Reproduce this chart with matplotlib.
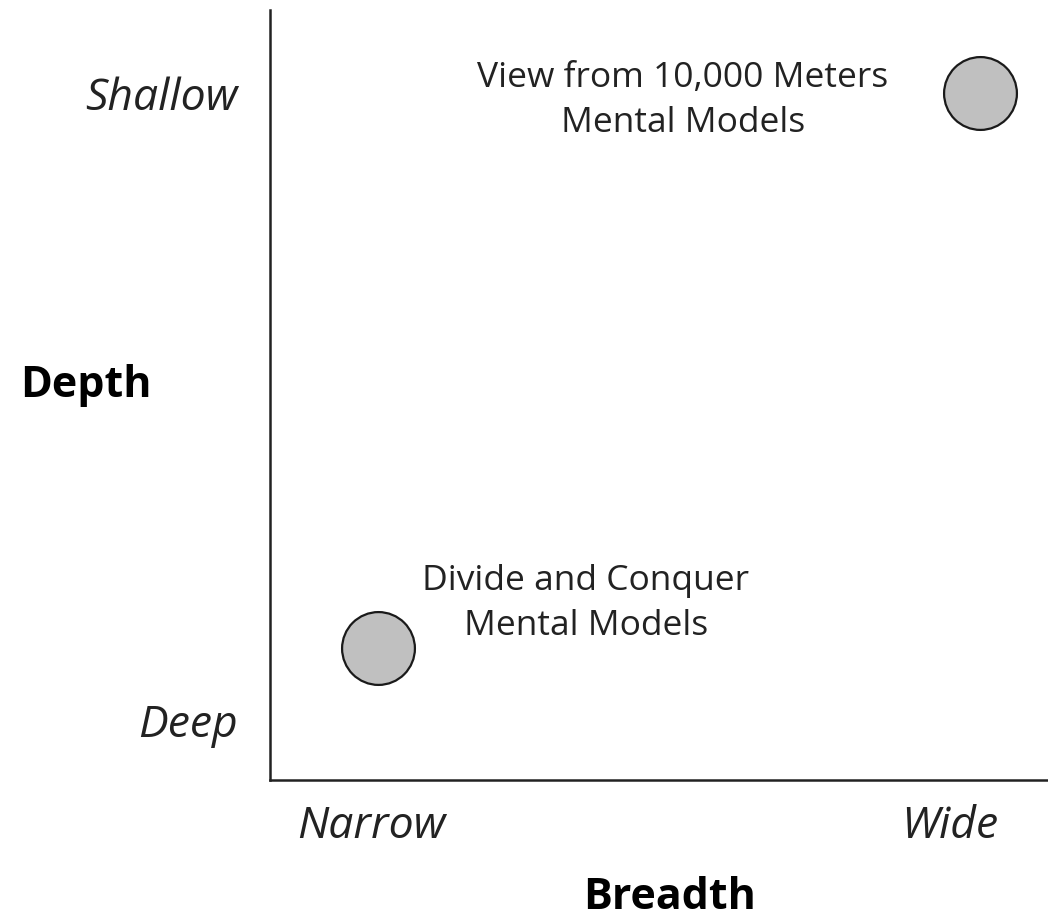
import matplotlib.pyplot as plt

# data: two mental model groups on breadth/depth plane
breadth = [0.139, 0.913]
depth = [0.171, 0.892]
labels = ["Divide and Conquer\nMental Models", "View from 10,000 Meters\nMental Models"]
label_xy = [(0.406, 0.229), (0.531, 0.882)]

x_ticks = [0.131, 0.874]
x_ticklabels = ["Narrow", "Wide"]
y_ticks = [0.078, 0.892]
y_ticklabels = ["Deep", "Shallow"]

plt.rcParams['font.family'] = ['Open Sans', 'DejaVu Sans']

fig = plt.figure(figsize=(10.48, 9.23), dpi=100)
ax = fig.add_axes([270 / 1048, 1 - 780 / 923, 778 / 1048, 770 / 923])
ax.set_xlim(0, 1)
ax.set_ylim(0, 1)

ax.scatter(breadth, depth, s=2750, c='#c0c0c0', edgecolors='#1a1a1a',
           linewidths=1.6, zorder=3, clip_on=False)

for txt, (tx, ty) in zip(labels, label_xy):
    ax.text(tx, ty, txt, ha='center', va='center', fontsize=25.5,
            color='#222222', linespacing=1.42)

for s in ['top', 'right']:
    ax.spines[s].set_visible(False)
for s in ['left', 'bottom']:
    ax.spines[s].set_linewidth(1.8)
    ax.spines[s].set_color('#222222')

ax.set_xticks(x_ticks)
ax.set_xticklabels(x_ticklabels, fontsize=32, style='italic', color='#222222')
ax.set_yticks(y_ticks)
ax.set_yticklabels(y_ticklabels, fontsize=32, style='italic', color='#222222')
ax.tick_params(axis='x', length=0, pad=18)
ax.tick_params(axis='y', length=0, pad=23)

ax.set_xlabel("Breadth", fontsize=31, fontweight='bold', va='center')
ax.xaxis.set_label_coords(0.514, -0.152)
ax.set_ylabel("Depth", fontsize=31, fontweight='bold', rotation=0,
              ha='center', va='center')
ax.yaxis.set_label_coords(-184 / 778, 0.512)

fig.savefig('out.png', dpi=100)
